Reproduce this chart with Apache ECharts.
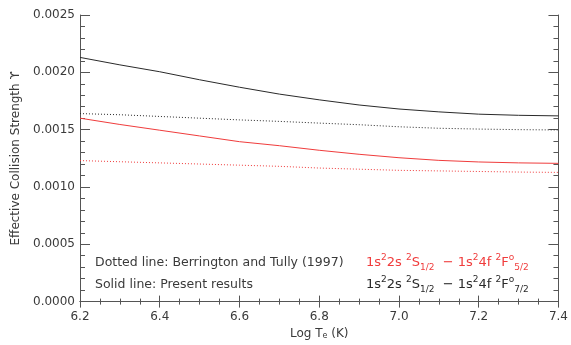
<!DOCTYPE html>
<html>
<head>
<meta charset="utf-8">
<script src="https://cdn.jsdelivr.net/npm/echarts@6/dist/echarts.min.js"></script>
<style>
  html, body { margin: 0; padding: 0; background: #fff; }
  #chart { width: 571px; height: 345px; }
</style>
</head>
<body>
<div id="chart"></div>
<script>
// log Te grid
var logT = [6.2, 6.3, 6.4, 6.5, 6.6, 6.7, 6.8, 6.9, 7.0, 7.1, 7.2, 7.3, 7.4];
// 2S1/2 - 2F7/2 (black)
var solid72 = [0.00213, 0.002065, 0.002005, 0.001935, 0.00187, 0.00181, 0.00176, 0.001715, 0.00168, 0.001655, 0.001635, 0.001625, 0.00162];
var dotted72 = [0.00164, 0.00163, 0.001615, 0.0016, 0.001585, 0.001572, 0.001557, 0.001543, 0.001525, 0.001512, 0.001505, 0.0015, 0.001497];
// 2S1/2 - 2F5/2 (red)
var solid52 = [0.0016, 0.001545, 0.001495, 0.001445, 0.001395, 0.00136, 0.00132, 0.001285, 0.001255, 0.001232, 0.001218, 0.00121, 0.001206];
var dotted52 = [0.00123, 0.00122, 0.00121, 0.0012, 0.00119, 0.00118, 0.001165, 0.001155, 0.001145, 0.00114, 0.001135, 0.00113, 0.001127];

var BLACK = '#2a2a2a';
var RED = '#f03c3c';
var TXT = '#3a3a3a';
var FONT = 'DejaVu Sans';

function pairs(ys) {
  return logT.map(function (x, i) { return [x, ys[i]]; });
}

var chart = echarts.init(document.getElementById('chart'));

function xAx(pos, showLabel) {
  return {
    type: 'value', position: pos, min: 6.2, max: 7.4, interval: 0.2,
    name: showLabel ? 'Log T{sub|e} (K)' : '',
    nameLocation: 'middle', nameGap: 24,
    nameTextStyle: {
      color: TXT, fontSize: 12, fontFamily: FONT,
      rich: { sub: { fontSize: 8, padding: [5, 0, 0, 0], color: TXT, fontFamily: FONT } }
    },
    axisLine: { show: true, lineStyle: { color: '#555', width: 1 } },
    axisTick: { show: true, inside: true, length: 6, lineStyle: { color: '#555' } },
    minorTick: { show: true, splitNumber: 4, length: 3, lineStyle: { color: '#555' } },
    axisLabel: {
      show: showLabel, color: TXT, fontSize: 12, fontFamily: FONT, margin: 9,
      formatter: function (v) { return v.toFixed(1); }
    },
    splitLine: { show: false }
  };
}

function yAx(pos, showLabel) {
  return {
    type: 'value', position: pos, min: 0, max: 0.0025, interval: 0.0005,
    name: showLabel ? 'Effective Collision Strength ϒ' : '',
    nameLocation: 'middle', nameGap: 57,
    nameTextStyle: { color: TXT, fontSize: 12, fontFamily: FONT },
    axisLine: { show: true, lineStyle: { color: '#555', width: 1 } },
    axisTick: { show: true, inside: true, length: 10, lineStyle: { color: '#555' } },
    minorTick: { show: true, splitNumber: 5, length: 5, lineStyle: { color: '#555' } },
    axisLabel: {
      show: showLabel, color: TXT, fontSize: 12, fontFamily: FONT, margin: 5,
      formatter: function (v) { return v.toFixed(4); }
    },
    splitLine: { show: false }
  };
}

function line(name, ys, color, dotted) {
  return {
    name: name, type: 'line', data: pairs(ys), showSymbol: false, smooth: false,
    xAxisIndex: 0, yAxisIndex: 0,
    lineStyle: { color: color, width: 1, type: dotted ? [1, 2] : 'solid' },
    silent: true, animation: false
  };
}

var richF = {
  sup: { fontSize: 9, padding: [0, 0, 7, 0], verticalAlign: 'bottom' },
  sub: { fontSize: 9, padding: [0, 0, -3, 0], verticalAlign: 'bottom' },
  base: { fontSize: 13, verticalAlign: 'bottom' }
};
function formula(j, color) {
  var r = {};
  Object.keys(richF).forEach(function (k) {
    r[k] = Object.assign({ fill: color, color: color, fontFamily: FONT }, richF[k]);
  });
  return {
    text: '{base|1s}{sup|2}{base|2s }{sup|2}{base|S}{sub|1/2}{base|  − 1s}{sup|2}{base|4f }{sup|2}{base|F}{sup|o}{sub|' + j + '}',
    rich: r
  };
}

var f52 = formula('5/2', RED);
var f72 = formula('7/2', BLACK);

chart.setOption({
  animation: false,
  backgroundColor: '#fff',
  grid: { left: 80, right: 11, top: 15, bottom: 38 },
  xAxis: [xAx('bottom', true), xAx('top', false)],
  yAxis: [yAx('left', true), yAx('right', false)],
  series: [
    line('solid 7/2', solid72, BLACK, false),
    line('dotted 7/2', dotted72, BLACK, true),
    line('solid 5/2', solid52, RED, false),
    line('dotted 5/2', dotted52, RED, true)
  ],
  graphic: [
    { type: 'text', left: 95, top: 256, style: { text: 'Dotted line: Berrington and Tully (1997)', fill: TXT, font: '12.5px ' + FONT } },
    { type: 'text', left: 95, top: 278, style: { text: 'Solid line: Present results', fill: TXT, font: '12.5px ' + FONT } },
    { type: 'text', left: 366, top: 253, style: { text: f52.text, rich: f52.rich, fill: RED } },
    { type: 'text', left: 366, top: 275, style: { text: f72.text, rich: f72.rich, fill: BLACK } }
  ]
});
</script>
</body>
</html>
